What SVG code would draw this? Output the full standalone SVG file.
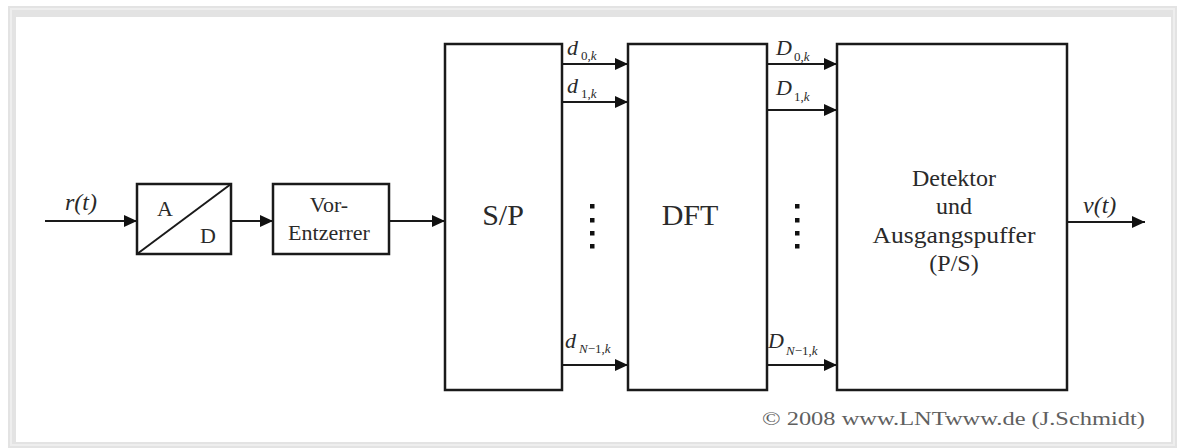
<svg xmlns="http://www.w3.org/2000/svg" width="1177" height="448" viewBox="0 0 1177 448">
<style>
.box{fill:#fff;stroke:#1a1a1a;stroke-width:2.5}
.ln{fill:none;stroke:#1a1a1a;stroke-width:2}
text{font-family:'Liberation Serif',serif;fill:#2a2a2a}
.big{font-size:30px}
.mid{font-size:22px}
.det{font-size:24px}
.it{font-style:italic}
.sub{font-size:13px}
.dot{fill:#111}
</style>
<defs>
<marker id="ah" markerUnits="userSpaceOnUse" markerWidth="14" markerHeight="14" refX="13" refY="6" orient="auto">
<path d="M0,0 L13,6 L0,12 z" fill="#111"/>
</marker>
</defs>
<rect x="8" y="6" width="1169" height="442" fill="#e3e3e3"/>
<rect x="11" y="9" width="1163" height="436" fill="none" stroke="#eeeeee" stroke-width="2"/>
<rect x="16" y="17" width="1155" height="425" fill="#fff"/>

<g id="connectors">
<line class="ln" x1="45" y1="221" x2="137" y2="221" marker-end="url(#ah)"/>
<line class="ln" x1="231" y1="221" x2="273" y2="221" marker-end="url(#ah)"/>
<line class="ln" x1="389" y1="221" x2="445" y2="221" marker-end="url(#ah)"/>
<line class="ln" x1="562" y1="64" x2="628" y2="64" marker-end="url(#ah)"/>
<line class="ln" x1="562" y1="102" x2="628" y2="102" marker-end="url(#ah)"/>
<line class="ln" x1="562" y1="365" x2="628" y2="365" marker-end="url(#ah)"/>
<line class="ln" x1="767" y1="64" x2="837" y2="64" marker-end="url(#ah)"/>
<line class="ln" x1="767" y1="110" x2="837" y2="110" marker-end="url(#ah)"/>
<line class="ln" x1="767" y1="365" x2="837" y2="365" marker-end="url(#ah)"/>
<line class="ln" x1="1067" y1="222" x2="1145" y2="222" marker-end="url(#ah)"/>
<text class="it" x="65" y="210" font-size="24">r(t)</text>
<text class="it" x="1083" y="213" font-size="24">v(t)</text>
<text class="it mid" x="567" y="55">d</text><text class="sub" x="581" y="60">0,<tspan class="it">k</tspan></text>
<text class="it mid" x="567" y="93">d</text><text class="sub" x="581" y="98">1,<tspan class="it">k</tspan></text>
<text class="it mid" x="565" y="348">d</text><text class="sub" x="579" y="353"><tspan class="it">N</tspan>−1,<tspan class="it">k</tspan></text>
<text class="it mid" x="776" y="55">D</text><text class="sub" x="794" y="61">0,<tspan class="it">k</tspan></text>
<text class="it mid" x="776" y="95">D</text><text class="sub" x="794" y="101">1,<tspan class="it">k</tspan></text>
<text class="it mid" x="768" y="348">D</text><text class="sub" x="786" y="355"><tspan class="it">N</tspan>−1,<tspan class="it">k</tspan></text>
</g>

<g id="ad">
<rect class="box" x="137" y="184" width="94" height="70"/>
<line class="ln" x1="137" y1="254" x2="231" y2="184"/>
<text class="mid" x="157" y="216">A</text>
<text class="mid" x="200" y="243">D</text>
</g>

<g id="vorentzerrer">
<rect class="box" x="273" y="184" width="116" height="70"/>
<text class="mid" x="329" y="212" text-anchor="middle">Vor-</text>
<text class="mid" x="329" y="240" text-anchor="middle">Entzerrer</text>
</g>

<g id="sp">
<rect class="box" x="445" y="44" width="117" height="346"/>
<text class="big" x="503" y="225" text-anchor="middle">S/P</text>
</g>

<g id="dots1">
<rect class="dot" x="590" y="204" width="4.5" height="4.5"/>
<rect class="dot" x="590" y="218" width="4.5" height="4.5"/>
<rect class="dot" x="590" y="231" width="4.5" height="4.5"/>
<rect class="dot" x="590" y="244" width="4.5" height="4.5"/>
</g>

<g id="dft">
<rect class="box" x="628" y="44" width="139" height="346"/>
<text class="big" x="690" y="225" text-anchor="middle">DFT</text>
</g>

<g id="dots2">
<rect class="dot" x="795" y="204" width="4.5" height="4.5"/>
<rect class="dot" x="795" y="218" width="4.5" height="4.5"/>
<rect class="dot" x="795" y="231" width="4.5" height="4.5"/>
<rect class="dot" x="795" y="244" width="4.5" height="4.5"/>
</g>

<g id="detektor">
<rect class="box" x="837" y="44" width="230" height="346"/>
<text class="det" x="954" y="186" text-anchor="middle">Detektor</text>
<text class="det" x="954" y="214" text-anchor="middle">und</text>
<text class="det" x="954" y="243" text-anchor="middle" textLength="163" lengthAdjust="spacingAndGlyphs">Ausgangspuffer</text>
<text class="det" x="954" y="271" text-anchor="middle">(P/S)</text>
</g>

<text x="762" y="425" font-size="18" style="fill:#606060" textLength="383" lengthAdjust="spacingAndGlyphs">© 2008 www.LNTwww.de (J.Schmidt)</text>
</svg>
